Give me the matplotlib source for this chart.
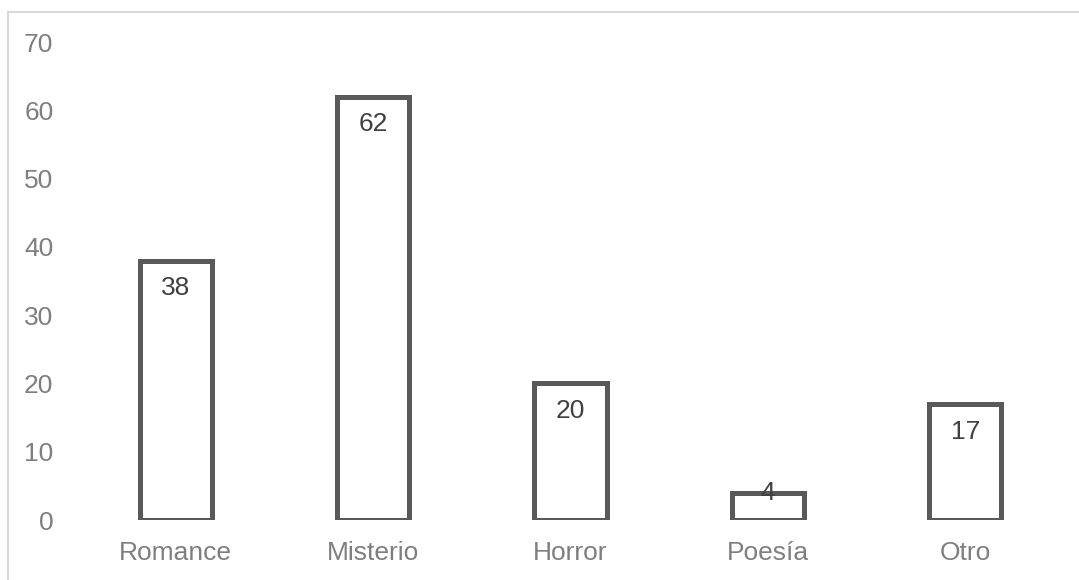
import matplotlib
matplotlib.use('Agg')
import matplotlib.pyplot as plt
from matplotlib.patches import Rectangle

# data
genres = ['Romance', 'Misterio', 'Horror', 'Poesía', 'Otro']
counts = [38, 62, 20, 4, 17]
yticks = [0, 10, 20, 30, 40, 50, 60, 70]

plt.rcParams['font.family'] = ['Liberation Sans', 'DejaVu Sans']

fig = plt.figure(figsize=(10.79, 5.8), dpi=100)
ax = fig.add_axes([77/1079, 60/580, (1064-77)/1079, (520-42)/580])

# light gray outer frame (right/bottom are cut off in the original)
fig.patches.append(Rectangle((8/1079, -0.1), 1.2, (580-12)/580 + 0.1,
                             transform=fig.transFigure, fill=False,
                             edgecolor='#d9d9d9', lw=1.5))

x = list(range(len(genres)))
ax.bar(x, counts, width=0.365, facecolor='white', edgecolor='#595959',
       linewidth=3.6, zorder=3)

for xi, v in zip(x, counts):
    off = -20 if v > 8 else 0
    ax.annotate(str(v), (xi, v), xytext=(0, off), textcoords='offset points',
                ha='center', va='center', fontsize=19, color='#404040', zorder=4)

ax.set_xlim(-0.5, len(genres) - 0.5)
ax.set_ylim(0, 70)
ax.set_yticks(yticks)
ax.set_xticks(x)
ax.set_xticklabels(genres)
for s in ax.spines.values():
    s.set_visible(False)
ax.tick_params(axis='both', length=0, labelsize=19, labelcolor='#7f7f7f')
ax.tick_params(axis='y', pad=17)
ax.tick_params(axis='x', pad=15)

fig.savefig('out.png', dpi=100)
plt.close()
